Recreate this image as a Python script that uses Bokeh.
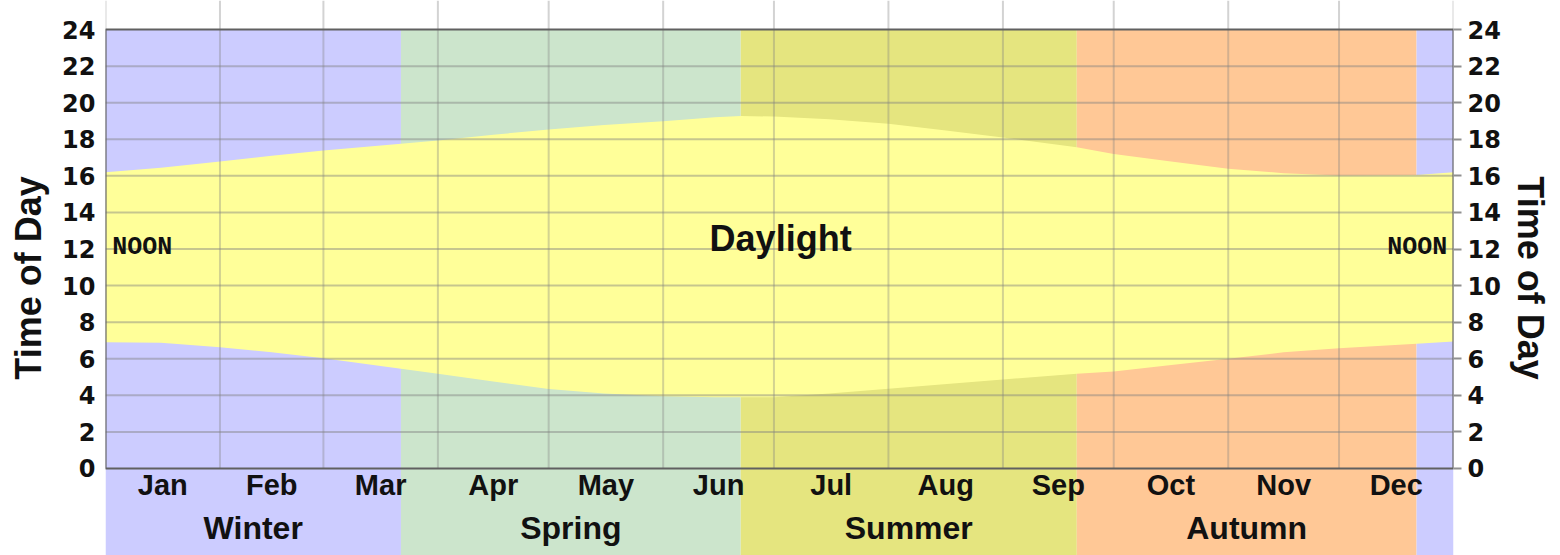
from bokeh.plotting import figure
from bokeh.models import Range1d, LinearAxis, FixedTicker
from bokeh.embed import file_html
from bokeh.resources import INLINE
from bokeh.core.properties import value

# ---- data ----
months = ["Jan", "Feb", "Mar", "Apr", "May", "Jun", "Jul", "Aug", "Sep", "Oct", "Nov", "Dec"]
month_mid = [15.5, 45, 74.5, 105, 135.5, 166, 196.5, 227.5, 258, 288.5, 319, 349.5]
month_edges = [0, 31, 59, 90, 120, 151, 181, 212, 243, 273, 304, 334, 365]

seasons = ["Winter", "Spring", "Summer", "Autumn", "Winter"]
season_start = [0, 80, 172, 263, 355]
season_end = [80, 172, 263, 355, 365]
season_colors = ["#ccccff", "#cce5cc", "#e5e57f", "#ffc896", "#ccccff"]

days = [0, 15, 31, 45, 59, 80, 90, 105, 120, 135, 151, 165, 172, 181, 196, 212, 227, 243, 263, 273, 288, 304, 319, 334, 355, 365]
sunset = [16.2, 16.45, 16.78, 17.1, 17.39, 17.75, 17.93, 18.25, 18.53, 18.78, 18.99, 19.2, 19.28, 19.24, 19.1, 18.85, 18.5, 18.1, 17.57, 17.2, 16.8, 16.39, 16.15, 16.02, 16.05, 16.2]
sunrise = [6.9, 6.87, 6.63, 6.35, 6.03, 5.45, 5.18, 4.75, 4.34, 4.1, 3.95, 3.9, 3.9, 3.9, 4.1, 4.36, 4.6, 4.87, 5.18, 5.3, 5.65, 6.0, 6.35, 6.58, 6.82, 6.94]

hour_ticks = list(range(0, 25, 2))

# ---- figure ----
Y_BOTTOM, Y_TOP = -4.76, 25.59
p = figure(width=1555, height=555, output_backend="svg", toolbar_location=None,
           x_range=Range1d(0, 365), y_range=Range1d(Y_BOTTOM, Y_TOP),
           x_axis_location=None, y_axis_location=None,
           min_border_left=105, min_border_right=102, min_border_top=0, min_border_bottom=0)
p.grid.visible = False
p.outline_line_color = None
p.background_fill_color = "white"

# season bands (extend below the chart for the labels)
p.quad(left=season_start, right=season_end, bottom=Y_BOTTOM, top=24,
       fill_color=season_colors, line_color=None)

# daylight
p.varea(x=days, y1=sunrise, y2=sunset, fill_color="#ffff99")

# grid lines
p.segment(x0=0, x1=365, y0=hour_ticks[1:-1], y1=hour_ticks[1:-1],
          line_color="#808080", line_alpha=0.45, line_width=2)
p.segment(x0=month_edges, x1=month_edges, y0=0, y1=Y_TOP,
          line_color="#808080", line_alpha=0.35, line_width=2)

# frame
p.quad(left=0, right=365, bottom=0, top=24, fill_color=None,
       line_color="#606060", line_width=2)

# axes
for side in ("left", "right"):
    ax = LinearAxis(ticker=FixedTicker(ticks=hour_ticks), bounds=(0, 24),
                    axis_label="Time of Day")
    ax.axis_line_color = None
    ax.major_tick_line_color = "#909090"
    ax.major_tick_line_width = 2
    ax.minor_tick_line_color = None
    ax.major_tick_in = 0
    ax.major_tick_out = 0 if side == "left" else 8
    ax.major_label_standoff = 10 if side == "left" else 6
    ax.major_label_text_font = "DejaVu Sans"
    ax.major_label_text_font_style = "bold"
    ax.major_label_text_font_size = "24px"
    ax.major_label_text_color = "#111111"
    ax.axis_label_text_font = "Liberation Sans"
    ax.axis_label_text_font_style = "bold"
    ax.axis_label_text_font_size = "36px"
    ax.axis_label_text_color = "#111111"
    ax.axis_label_standoff = 10 if side == "left" else 6
    p.add_layout(ax, side)

# month labels
p.text(x=month_mid, y=-0.93, text=months, text_font=value("Liberation Sans"),
       text_font_style="bold", text_font_size="29px", text_align="center",
       text_baseline="middle", text_color="#111111")

# season labels
season_mid = [(s + e) / 2 for s, e in zip(season_start[:4], season_end[:4])]
p.text(x=season_mid, y=-3.23, text=seasons[:4], text_font=value("Liberation Sans"),
       text_font_style="bold", text_font_size="32px", text_align="center",
       text_baseline="middle", text_color="#111111")

# annotations
p.text(x=[182.8], y=[12.6], text=["Daylight"], text_font=value("Liberation Sans"),
       text_font_style="bold", text_font_size="36px", text_align="center",
       text_baseline="middle", text_color="#111111")
p.text(x=[1.8], y=[12.1], text=["NOON"], text_font=value("Liberation Mono"),
       text_font_style="bold", text_font_size="25px", text_align="left",
       text_baseline="middle", text_color="#111111")
p.text(x=[363.3], y=[12.1], text=["NOON"], text_font=value("Liberation Mono"),
       text_font_style="bold", text_font_size="25px", text_align="right",
       text_baseline="middle", text_color="#111111")

open("out.html", "w").write(file_html(p, INLINE))
